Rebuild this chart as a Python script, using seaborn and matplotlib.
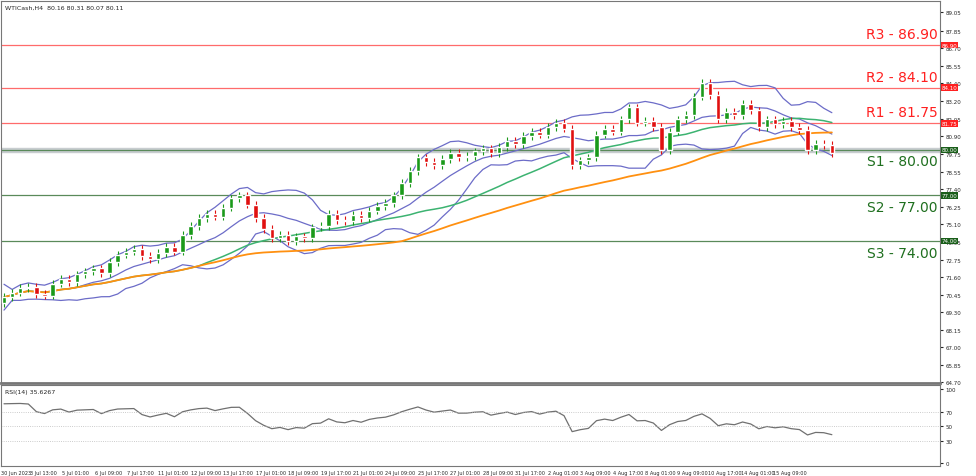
import numpy as np
import pandas as pd
import matplotlib
matplotlib.use("Agg")
import matplotlib.pyplot as plt
import seaborn as sns

closes = [70.3,70.6,70.9,71.0,70.5,70.4,71.2,71.5,71.3,71.8,72.0,
          72.2,71.9,72.6,73.1,73.3,73.5,73.0,72.8,73.2,73.6,
          73.3,74.4,75.0,75.5,75.8,75.6,76.2,76.8,77.0,76.4,
          75.5,74.8,74.2,74.4,74.0,74.3,74.2,74.9,75.0,75.8,
          75.4,75.3,75.7,75.5,76.0,76.3,76.5,77.0,77.8,78.6,
          79.5,79.2,79.0,79.4,79.8,79.5,79.6,79.9,80.1,79.8,
          80.2,80.6,80.4,80.9,81.2,81.0,81.5,81.8,81.4,79.0,
          79.3,79.5,81.0,81.4,81.2,82.0,82.8,81.8,81.9,81.5,
          80.0,81.2,82.0,82.3,83.5,84.4,83.6,82.0,82.5,82.3,
          83.0,82.6,81.5,82.0,81.7,81.9,81.5,81.3,80.0,80.4,80.3,79.8]
first_open = 69.9
levels = [86.90, 84.10, 81.75, 80.00, 77.00, 74.00]
level_names = ["R3", "R2", "R1", "S1", "S2", "S3"]
price_ticks = [89.05,87.85,86.70,85.55,84.40,83.20,82.05,80.90,79.75,78.55,77.40,76.25,75.10,73.95,72.75,71.60,70.45,69.30,68.15,67.00,65.85,64.70]
date_labels = ["30 Jun 2023","3 Jul 13:00","5 Jul 01:00","6 Jul 09:00","7 Jul 17:00","11 Jul 01:00",
               "12 Jul 09:00","13 Jul 17:00","17 Jul 01:00","18 Jul 09:00","19 Jul 17:00","21 Jul 01:00",
               "24 Jul 09:00","25 Jul 17:00","27 Jul 01:00","28 Jul 09:00","31 Jul 17:00","2 Aug 01:00",
               "3 Aug 09:00","4 Aug 17:00","8 Aug 01:00","9 Aug 09:00","10 Aug 17:00","14 Aug 01:00","15 Aug 09:00"]

n = len(closes)
df = pd.DataFrame({"i": np.arange(n), "close": closes})
df["open"] = [first_open] + closes[:-1]
df["high"] = df[["open", "close"]].max(axis=1) + 0.25
df["low"] = df[["open", "close"]].min(axis=1) - 0.25
s = df["close"]
mid = s.rolling(10, min_periods=1).mean()
sd = s.rolling(10, min_periods=1).std().fillna(0.5)
df["bb_mid"], df["bb_up"], df["bb_lo"] = mid, mid + 1.7 * sd, mid - 1.7 * sd
df["sma50"] = s.rolling(25, min_periods=1).mean()
df["sma100"] = s.rolling(50, min_periods=1).mean()
d = s.diff().fillna(0)
d.iloc[0] = 0.25
up = d.clip(lower=0).ewm(alpha=1/10, adjust=False).mean() + 0.08
dn = (-d.clip(upper=0)).ewm(alpha=1/10, adjust=False).mean() + 0.08
df["rsi"] = (100 - 100 / (1 + up / dn)).clip(5, 95)

sns.set_style("white")
fig = plt.figure(figsize=(9.76, 4.77), dpi=100)
W = 976; H = 477
ax = fig.add_axes([1/W, 1 - 384/H, 939/W, 382/H])
ax2 = fig.add_axes([1/W, 1 - 467/H, 939/W, 81/H], sharex=ax)

xmin = -3/8.125; xmax = (940 - 3) / 8.125
ax.set_xlim(xmin, xmax)
ax.set_ylim(64.70 - 0.05, 89.05 + 0.75)

for lv, nm in zip(levels, level_names):
    red = nm.startswith("R")
    col = "#ff6b6b" if red else "#5a8a5a"
    if nm == "S1":
        ax.axhspan(lv - 0.12, lv + 0.12, color="#c8cdd0", zorder=0)
    ax.axhline(lv, color=col, lw=0.9, zorder=1)
    tc = "#ff2020" if red else "#1f6f1f"
    ax.text(xmax - 0.3, lv + (0.25 if red else -0.3), f"{nm} - {lv:.2f}", color=tc, fontsize=10,
            ha="right", va="bottom" if red else "top")
    ax.text(1.002, lv, f"{lv:.2f}", transform=ax.get_yaxis_transform(), fontsize=4, color="white",
            va="center", ha="left", bbox=dict(boxstyle="square,pad=0.15", fc="#ff2020" if red else "#1a5e1a", ec="none"))

for _, r in df.iterrows():
    c = "#1a9a1a" if r.close >= r.open else "#e01010"
    ax.vlines(r.i, r.low, r.high, color=c, lw=0.8, zorder=3)
    ax.bar(r.i, max(abs(r.close - r.open), 0.05), bottom=min(r.open, r.close), width=0.55, color=c, zorder=4)

sns.lineplot(data=df, x="i", y="bb_up", ax=ax, color="#6c6cc8", lw=0.9, zorder=2)
sns.lineplot(data=df, x="i", y="bb_lo", ax=ax, color="#6c6cc8", lw=0.9, zorder=2)
sns.lineplot(data=df, x="i", y="bb_mid", ax=ax, color="#6c6cc8", lw=0.9, zorder=2)
sns.lineplot(data=df, x="i", y="sma50", ax=ax, color="#3cb371", lw=1.1, zorder=2)
sns.lineplot(data=df, x="i", y="sma100", ax=ax, color="#ff9010", lw=1.3, zorder=2)

ax.yaxis.tick_right()
ax.set_yticks(price_ticks)
ax.set_yticklabels([f"{t:.2f}" for t in price_ticks], fontsize=4)
ax.tick_params(axis="y", length=2, pad=2)
ax.tick_params(axis="x", bottom=False, labelbottom=False)
ax.set_xlabel(""); ax.set_ylabel("")
ax.text(0.004, 0.99, "WTICash,H4  80.16 80.31 80.07 80.11", transform=ax.transAxes, fontsize=4.5, va="top")

sns.lineplot(data=df, x="i", y="rsi", ax=ax2, color="#707070", lw=0.9)
for lv in (70, 50, 30):
    ax2.axhline(lv, color="#bbbbbb", lw=0.6, ls=":")
ax2.set_ylim(-4, 106)
ax2.yaxis.tick_right()
ax2.set_yticks([100, 70, 50, 30, 0])
ax2.set_yticklabels(["100", "70", "50", "30", "0"], fontsize=4)
ax2.tick_params(axis="y", length=2, pad=2)
xt = [(10 - 3) / 8.125 + 4 * k for k in range(len(date_labels))]
xt[0] = (15 - 3) / 8.125
ax2.set_xticks(xt)
ax2.set_xticklabels(date_labels, fontsize=3.6)
ax2.tick_params(axis="x", length=2, pad=1)
ax2.set_xlabel(""); ax2.set_ylabel("")
ax2.text(0.004, 0.95, "RSI(14) 35.6267", transform=ax2.transAxes, fontsize=4.5, va="top")
for a in (ax, ax2):
    for sp in a.spines.values():
        sp.set_color("#777777"); sp.set_linewidth(0.8)
ax.spines["bottom"].set_linewidth(2)

fig.savefig("out.png", dpi=100)
